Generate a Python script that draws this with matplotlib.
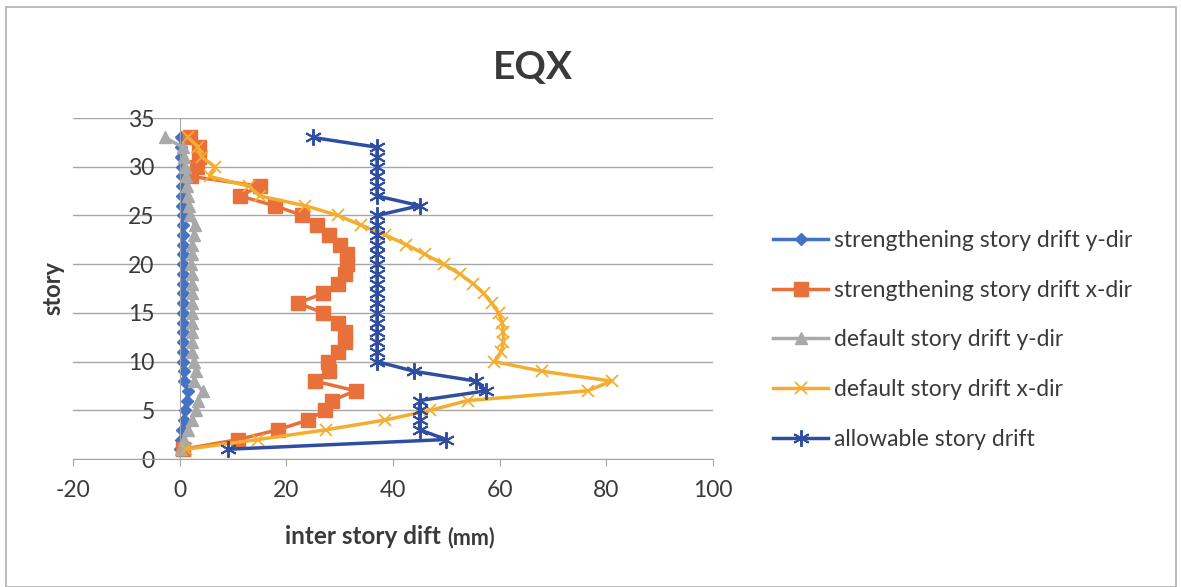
import matplotlib
matplotlib.use("Agg")
import matplotlib.pyplot as plt
from matplotlib.patches import Rectangle

plt.rcParams['font.family'] = ['Lato', 'DejaVu Sans']
plt.rcParams['axes.unicode_minus'] = False

# story numbers 1..33
story = list(range(1, 34))

# inter story drift (mm), story 1 -> 33
str_y = [0.0, 0.2, 0.5, 0.8, 1.0, 1.3, 1.6, 0.9, 0.8, 0.7,
         0.6, 0.6, 0.6, 0.6, 0.6, 0.6, 0.6, 0.6, 0.6, 0.6,
         0.6, 0.6, 0.6, 0.6, 0.6, 0.5, 0.5, 0.5, 0.4, 0.4,
         0.3, 0.3, 0.2]
str_x = [0.6, 11.0, 18.4, 24.1, 27.2, 28.5, 33.0, 25.3, 28.0, 27.8,
         29.7, 31.0, 31.0, 29.7, 26.9, 22.2, 26.9, 29.7, 31.0, 31.3,
         31.3, 30.0, 28.0, 25.7, 23.0, 17.8, 11.3, 15.0, 2.2, 3.2,
         3.6, 3.7, 1.9]
def_y = [0.3, 0.9, 1.6, 2.4, 3.0, 3.4, 4.3, 2.6, 3.0, 2.6,
         2.4, 2.3, 2.3, 2.3, 2.3, 2.3, 2.3, 2.3, 2.3, 2.2,
         2.3, 2.4, 2.6, 2.8, 2.0, 1.8, 1.5, 1.3, 1.2, 1.0,
         0.8, 0.6, -2.8]
def_x = [1.2, 14.7, 27.5, 38.5, 47.0, 54.0, 76.5, 81.0, 68.0, 59.0,
         60.3, 60.7, 60.7, 60.5, 59.8, 58.5, 57.0, 55.0, 52.5, 49.5,
         46.0, 42.5, 38.5, 34.0, 29.7, 23.5, 15.0, 13.0, 5.6, 6.6,
         4.1, 3.5, 1.6]
allow = [9.0, 50.0, 45.0, 45.0, 45.0, 45.0, 57.5, 55.5, 44.0, 37.0,
         37.0, 37.0, 37.0, 37.0, 37.0, 37.0, 37.0, 37.0, 37.0, 37.0,
         37.0, 37.0, 37.0, 37.0, 37.0, 45.0, 37.0, 37.0, 37.0, 37.0,
         37.0, 37.0, 25.0]

txt = '#3a3a3a'
fig = plt.figure(figsize=(11.81, 5.87), dpi=100)
fig.patches.append(Rectangle((6/1181, 0.0), 1170/1181, 1 - 7/587, transform=fig.transFigure,
                             fill=False, edgecolor='#b0b0b0', linewidth=1.2))

ax = fig.add_axes([73/1181, 1 - 459/587, 640/1181, 341/587])
lw = 2.5
ax.plot(str_y, story, color='#4472C4', lw=lw, marker='D', ms=6, label='strengthening story drift y-dir')
ax.plot(str_x, story, color='#E8703A', lw=lw, marker='s', ms=10.5, label='strengthening story drift x-dir')
ax.plot(def_y, story, color='#A9A9A9', lw=lw, marker='^', ms=9, label='default story drift y-dir')
ax.plot(def_x, story, color='#F3AE30', lw=lw, marker='x', ms=9, mew=1.3, label='default story drift x-dir')
ax.plot(allow, story, color='#2F4EA2', lw=lw, marker=(6, 2, 0), ms=12, mew=1.4, label='allowable story drift')

ax.set_xlim(-20, 100)
ax.set_ylim(0, 35)
ax.set_xticks(range(-20, 101, 20))
ax.set_yticks(range(0, 36, 5))
ax.yaxis.grid(True, color='#a6a6a6', lw=1.0)
ax.set_axisbelow(True)
for s in ['top', 'right']:
    ax.spines[s].set_visible(False)
ax.spines['left'].set_position(('data', 0))
ax.spines['left'].set_color('#a6a6a6')
ax.spines['bottom'].set_color('#a6a6a6')
ax.tick_params(axis='y', length=0, pad=18, labelsize=16.5, labelcolor=txt)
ax.tick_params(axis='x', direction='out', length=5, color='#a6a6a6', pad=10, labelsize=16.5, labelcolor=txt)

fig.text(53/1181, 1 - 288/587, 'story', rotation=90, ha='center', va='center',
         fontsize=17, fontweight='bold', color=txt)
fig.text(447/1181, 1 - 537/587, 'inter story dift ', ha='right', va='center',
         fontsize=17.5, fontweight='bold', color=txt)
fig.text(447/1181, 1 - 538/587, '(mm)', ha='left', va='center',
         fontsize=15.5, fontweight='bold', color=txt)
fig.text(533/1181, 1 - 67/587, 'EQX', ha='center', va='center',
         fontsize=28, fontweight='bold', color=txt)

leg = ax.legend(loc='center left', bbox_to_anchor=(773/1181, 1 - 340/587),
                bbox_transform=fig.transFigure, frameon=False, fontsize=16.5,
                borderaxespad=0, borderpad=0, handlelength=2.4, handletextpad=0.25,
                labelspacing=1.25)
for t in leg.get_texts():
    t.set_color(txt)

fig.savefig('out.png', dpi=100)
